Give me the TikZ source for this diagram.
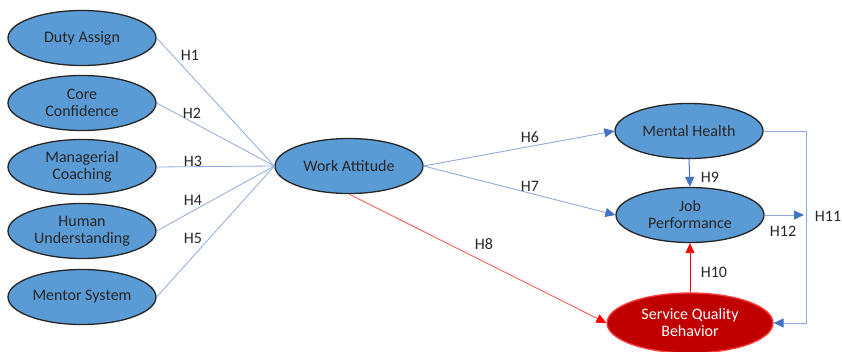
\documentclass[tikz,border=0pt]{standalone}
\usepackage{fontspec}
\setmainfont{Carlito}
\usetikzlibrary{shapes.geometric,arrows.meta}
\definecolor{nodefill}{HTML}{5B9BD5}
\definecolor{linkblue}{HTML}{8FAADC}
\definecolor{tipblue}{HTML}{4472C4}
\definecolor{sqfill}{HTML}{C00000}
\definecolor{sqline}{HTML}{FF3B3B}
\definecolor{redlink}{HTML}{FF4D4D}
\tikzset{
  var/.style={ellipse, draw=black!85, line width=1.3pt, fill=nodefill, minimum width=148pt, minimum height=55pt, inner sep=0pt, align=center, font=\fontsize{16}{17}\selectfont, text=black!85},
  redvar/.style={var, fill=sqfill, draw=sqline, text=white, minimum width=166pt, minimum height=60pt},
  hlab/.style={font=\fontsize{16}{17}\selectfont, text=black!85, inner sep=0pt},
  thin link/.style={draw=linkblue, line width=0.8pt},
  blue arrow/.style={draw=linkblue, line width=0.9pt, -{Triangle[length=10pt,width=9pt,color=tipblue]}},
  solid blue arrow/.style={draw=tipblue, line width=1pt, -{Triangle[length=10pt,width=9pt,color=tipblue]}},
  red arrow/.style={draw=redlink, line width=0.8pt, -{Triangle[length=10pt,width=9pt,color=red]}},
}
\begin{document}
\begin{tikzpicture}[x=1pt,y=-1pt]
\clip (0,0) rectangle (842,352);
\fill[white] (0,0) rectangle (842,352);
% left nodes
\node[var] (da) at (82,38) {Duty Assign};
\node[var] (cc) at (82,103) {Core\\Confidence};
\node[var] (mc) at (82,167) {Managerial\\Coaching};
\node[var] (hu) at (82,231) {Human\\Understanding};
\node[var] (ms) at (82,297) {Mentor System};
% center
\node[var] (wa) at (349,166) {Work Attitude};
% right
\node[var] (mh) at (689,131) {Mental Health};
\node[var] (jp) at (690,215) {Job\\Performance};
\node[redvar] (sq) at (690,323) {Service Quality\\Behavior};
% left links
\draw[thin link] (da.east) -- (wa.west);
\draw[thin link] (cc.east) -- (wa.west);
\draw[thin link] (mc.east) -- (wa.west);
\draw[thin link] (hu.east) -- (wa.west);
\draw[thin link] (ms.east) -- (wa.west);
% labels H1-H5
\node[hlab] (h1) at (190,55) {H1};
\node[hlab] (h2) at (192,113) {H2};
\node[hlab] (h3) at (193,161) {H3};
\node[hlab] (h4) at (193,200) {H4};
\node[hlab] (h5) at (193,238) {H5};
% WA to right
\draw[blue arrow] (wa.east) -- (mh.west);
\draw[blue arrow] (wa.east) -- (jp.west);
\draw[red arrow] (wa.south) -- (sq.west);
\node[hlab] (h6) at (530,137) {H6};
\node[hlab] (h7) at (530,186) {H7};
\node[hlab] (h8) at (484,244) {H8};
% MH to JP
\draw[solid blue arrow] (mh.south) -- (jp.north);
\node[hlab] (h9) at (710,177) {H9};
% SQ to JP
\draw[red arrow, draw=red] (sq.north) -- (jp.south);
\node[hlab] (h10) at (714,272) {H10};
% JP to right
\coordinate (jpend) at (804,215);
\draw[blue arrow] (jp.east) -- (jpend);
\node[hlab] (h12) at (783,231) {H12};
% H11
\coordinate (c1) at (806,131);
\coordinate (c2) at (806,323);
\draw[blue arrow] (mh.east) -- (c1) -- (c2) -- (sq.east);
\node[hlab] (h11) at (828,216) {H11};
\end{tikzpicture}
\end{document}
